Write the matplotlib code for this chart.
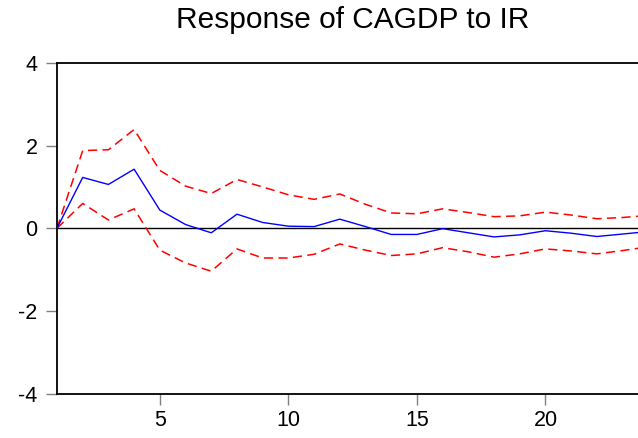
import matplotlib
matplotlib.use("Agg")
import matplotlib.pyplot as plt

periods = list(range(1, 25))
response = [0.0, 1.23, 1.06, 1.43, 0.44, 0.09, -0.11, 0.34, 0.14, 0.05, 0.04, 0.22,
            0.04, -0.15, -0.15, -0.01, -0.11, -0.21, -0.16, -0.06, -0.12, -0.20, -0.14, -0.08]
upper = [0.0, 1.88, 1.90, 2.39, 1.40, 1.02, 0.84, 1.18, 1.00, 0.81, 0.70, 0.83,
         0.58, 0.37, 0.35, 0.47, 0.38, 0.28, 0.30, 0.39, 0.32, 0.23, 0.26, 0.31]
lower = [0.0, 0.60, 0.20, 0.47, -0.53, -0.84, -1.04, -0.50, -0.72, -0.72, -0.63, -0.38,
         -0.53, -0.66, -0.62, -0.47, -0.57, -0.70, -0.62, -0.50, -0.55, -0.62, -0.54, -0.45]
x_ticks = [5, 10, 15, 20]
y_ticks = [-4, -2, 0, 2, 4]
title = "Response of CAGDP to IR"

plt.rcParams['font.family'] = ['Liberation Sans', 'DejaVu Sans']
plt.rcParams['axes.unicode_minus'] = False

fig = plt.figure(figsize=(6.38, 4.38), dpi=100)
W, H = 638, 438
left, right, top, bottom = 57, 638, 63, 393.5
ax = fig.add_axes([left / W, 1 - bottom / H, (right - left) / W, (bottom - top) / H])

ax.axhline(0, color='black', lw=1.0, zorder=1)
ax.plot(periods, response, color='#0000ff', lw=1.0, zorder=3)
ax.plot(periods, upper, color='#ff0000', lw=1.1, ls=(0, (6, 3.5)), zorder=2)
ax.plot(periods, lower, color='#ff0000', lw=1.1, ls=(0, (6, 3.5)), zorder=2)

ax.set_xlim(1, 23.6)
ax.set_ylim(-4, 4)
ax.set_xticks(x_ticks)
ax.set_yticks(y_ticks)
ax.tick_params(axis='both', direction='out', length=8, width=1, color='#808080',
               labelsize=15.5)
ax.tick_params(axis='y', pad=6)
ax.tick_params(axis='x', pad=4)
for s in ['left', 'top', 'bottom']:
    ax.spines[s].set_linewidth(1.3)
    ax.spines[s].set_color('black')
ax.spines['right'].set_visible(False)

fig.text(353 / W, 1 - 27.7 / H, title, ha='center', va='baseline', fontsize=21.5)

fig.savefig("out.png", dpi=100)
